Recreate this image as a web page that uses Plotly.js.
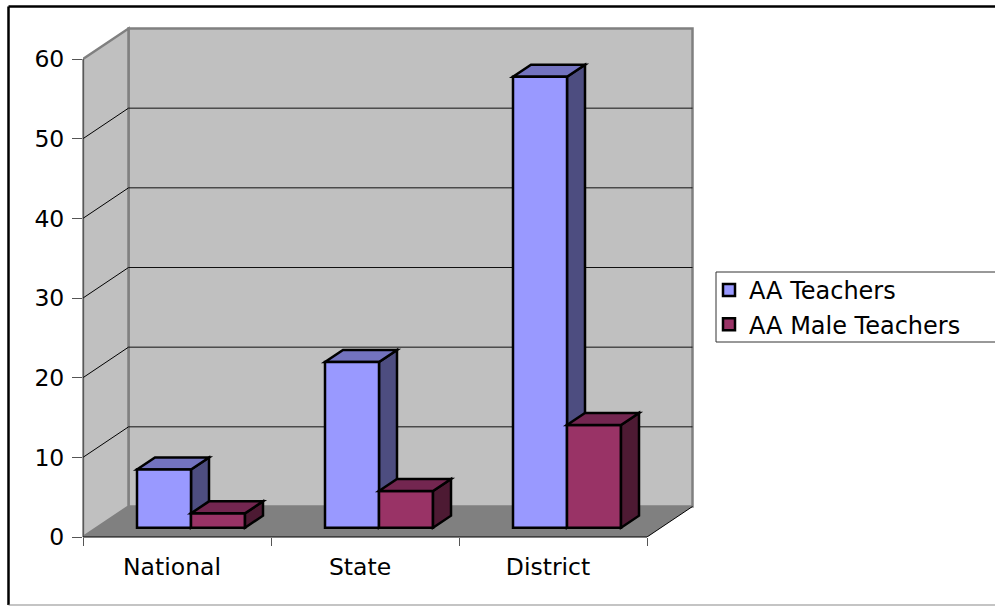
<!DOCTYPE html>
<html><head><meta charset="utf-8">
<script src="https://cdn.plot.ly/plotly-3.0.1.min.js"></script>
<style>html,body{margin:0;padding:0;background:#fff;overflow:hidden}#c{width:995px;height:606px}</style>
</head><body><div id="c"></div>
<script>
const categories = ['National', 'State', 'District'];
const seriesNames = ['AA Teachers', 'AA Male Teachers'];
const teachers = [7.3, 20.8, 56.6];
const maleTeachers = [1.8, 4.6, 12.9];
const yTicks = [0, 10, 20, 30, 40, 50, 60];

// page geometry
const W = 995, H = 606, L = 83, R = 696, T = 26, B = 537;
const catPx = 188, unitPx = 478 / 60;
const xMin = -0.5, xMax = xMin + (R - L) / catPx, yMax = (B - T) / unitPx;
// projection of depth, in data units
const wallDx = 45.5 / catPx, wallDy = 30.5 / unitPx;
const barDx = 18 / catPx, barDy = 12 / unitPx;
const barBase = 9.3 / unitPx;
const barW = 54 / catPx;
const offs = [-40 / catPx, 14 / catPx];
const colors = ['#9999FF', '#993366'], tops = ['#7373BF', '#732650'], sides = ['#4D4D80', '#4D1A33'];
const last = categories.length - 0.5;
const yLim = yTicks[yTicks.length - 1];

const path = (pts) => 'M' + pts.map(p => p[0] + ',' + p[1]).join('L') + 'Z';
const poly = (pts, fill, lc, lw, layer) => ({type: 'path', xref: 'x', yref: 'y', path: path(pts), fillcolor: fill,
  line: {color: lc, width: lw}, layer});
const seg = (x0, y0, x1, y1, c, w, layer) => ({type: 'line', xref: 'x', yref: 'y', x0, y0, x1, y1, line: {color: c, width: w}, layer});
const px = v => (v - L) / (R - L), py = v => (B - v) / (B - T);
const pseg = (a, b, c, d, col, w) => ({type: 'line', xref: 'paper', yref: 'paper', x0: px(a), y0: py(b), x1: px(c), y1: py(d),
  line: {color: col, width: w}, layer: 'above'});

const shapes = [];
// walls and floor
shapes.push(poly([[xMin + wallDx, wallDy], [xMin + wallDx, yLim + wallDy], [last + wallDx, yLim + wallDy], [last + wallDx, wallDy]], '#C0C0C0', '#808080', 2.5, 'below'));
shapes.push(poly([[xMin, 0], [xMin, yLim], [xMin + wallDx, yLim + wallDy], [xMin + wallDx, wallDy]], '#C0C0C0', '#808080', 2.5, 'below'));
shapes.push(poly([[xMin, 0], [last, 0], [last + wallDx, wallDy], [xMin + wallDx, wallDy]], '#808080', '#808080', 0, 'below'));
shapes.push(seg(last, 0, last + wallDx, wallDy, '#000', 1, 'below'));
// gridlines
yTicks.slice(1, -1).forEach(v => {
  shapes.push(seg(xMin + wallDx, v + wallDy, last + wallDx, v + wallDy, '#111', 1, 'below'));
  shapes.push(seg(xMin, v, xMin + wallDx, v + wallDy, '#000', 1, 'below'));
});
// 3D faces of the bars, built from the values
function faces(vals, s, layer) {
  vals.forEach((v, i) => {
    const x0 = i + offs[s], x1 = x0 + barW, top = barBase + v;
    shapes.push(poly([[x1, barBase], [x1 + barDx, barBase + barDy], [x1 + barDx, top + barDy], [x1, top]], sides[s], '#000', 2.5, layer));
    shapes.push(poly([[x0, top], [x1, top], [x1 + barDx, top + barDy], [x0 + barDx, top + barDy]], tops[s], '#000', 2.5, layer));
  });
}
faces(teachers, 0, 'below');
faces(maleTeachers, 1, 'above');
// y axis line, stops at the top tick
shapes.push({type: 'line', xref: 'paper', yref: 'y', x0: 0, x1: 0, y0: 0, y1: yLim, line: {color: '#333', width: 1}, layer: 'above'});
// x axis line, stops at the last category boundary
shapes.push({type: 'line', xref: 'x', yref: 'paper', x0: xMin, x1: last, y0: 0, y1: 0, line: {color: '#000', width: 1}, layer: 'above'});
// outer frame and legend box
shapes.push(pseg(8.5, 6.5, 1100, 6.5, '#000', 2.5));
shapes.push(pseg(8.5, 6.5, 8.5, 605, '#000', 2.5));
shapes.push(pseg(8.5, 605, 1100, 605, '#8a8a8a', 1.2));
shapes.push({type: 'rect', xref: 'paper', yref: 'paper', x0: px(716), x1: px(1100), y0: py(342), y1: py(272),
  fillcolor: 'rgba(0,0,0,0)', line: {color: '#333', width: 1}, layer: 'above'});

const traces = [teachers, maleTeachers].map((vals, s) => ({
  type: 'bar', name: seriesNames[s], x: categories, y: vals,
  base: vals.map(() => barBase), width: barW, offset: offs[s],
  marker: {color: colors[s], line: {color: '#000', width: 2.5}},
  legendgroup: seriesNames[s], hoverinfo: 'skip'
}));

const layout = {
  width: W, height: H, showlegend: true, barmode: 'overlay', bargap: 0,
  paper_bgcolor: '#fff', plot_bgcolor: 'rgba(0,0,0,0)',
  margin: {l: L, r: W - R, t: T, b: H - B, autoexpand: false},
  font: {family: '"DejaVu Sans", Verdana, sans-serif', size: 23.5, color: '#000'},
  xaxis: {type: 'category', range: [xMin, xMax], categoryorder: 'array', categoryarray: categories,
    tickson: 'boundaries', ticks: 'outside', ticklen: 8, tickcolor: '#555', tickwidth: 1,
    showgrid: false, showline: false, zeroline: false, ticklabelshift: -5, ticklabelstandoff: 13, fixedrange: true},
  yaxis: {range: [0, yMax], tickvals: yTicks, ticks: 'outside', ticklen: 10, tickcolor: '#555', tickwidth: 1,
    showgrid: false, showline: false, zeroline: false, ticklabelstandoff: 3, fixedrange: true},
  legend: {x: px(709), xanchor: 'left', y: py(268), yanchor: 'top', orientation: 'v', bgcolor: 'rgba(0,0,0,0)', borderwidth: 0,
    traceorder: 'normal', tracegroupgap: 1, font: {size: 24}, itemclick: false, itemdoubleclick: false},
  shapes
};
Plotly.newPlot('c', traces, layout, {displayModeBar: false, staticPlot: true}).then(() => {
  // the reference's legend keys are larger than Plotly's default swatch
  document.querySelectorAll('.legendpoints path.legendbar').forEach(p => {
    const t = p.getAttribute('transform') || '';
    p.setAttribute('transform', t + ' translate(4,0) scale(1.55,1.35)');
  });
});
</script></body></html>
